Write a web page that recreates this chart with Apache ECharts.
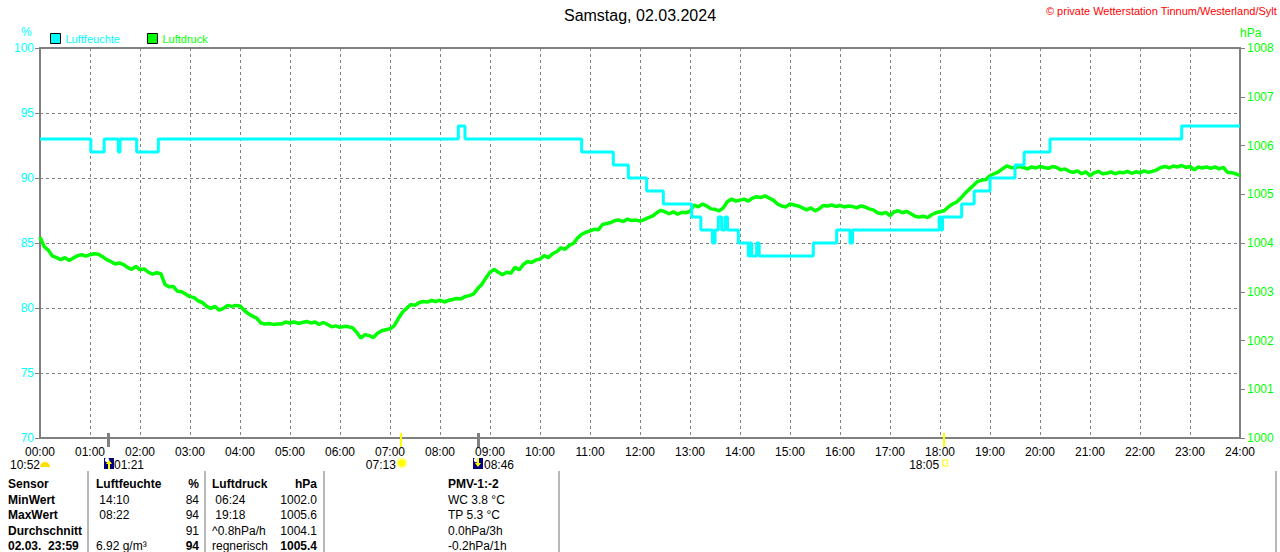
<!DOCTYPE html>
<html><head><meta charset="utf-8">
<script src="https://cdn.jsdelivr.net/npm/echarts@6/dist/echarts.min.js"></script>
<style>html,body{margin:0;padding:0;background:#fff}#c{width:1280px;height:552px}</style>
</head><body><div id="c"></div>
<script>
const chartTitle = 'Samstag, 02.03.2024';
const copyrightText = '© private Wetterstation Tinnum/Westerland/Sylt';
const seriesNames = ['Luftfeuchte', 'Luftdruck'];
const unitLeft = '%';
const unitRight = 'hPa';

// Luftfeuchte: change points (value holds until next time)
const humidityTimes = ['00:00','01:01','01:17','01:34','01:36','01:56','02:22','08:22','08:30','10:50','11:28','11:46','12:08','12:28','13:02','13:13','13:27','13:30','13:34','13:38','13:42','13:45','13:58','14:10','14:12','14:14','14:20','14:23','15:28','15:56','16:12','16:15','17:59','18:01','18:03','18:26','18:41','19:00','19:30','19:41','20:12','22:50','24:00'];
const humidityValues = [93,92,93,92,93,92,93,94,93,92,91,90,89,88,87,86,85,86,87,86,87,86,85,84,85,84,85,84,85,86,85,86,87,86,87,88,89,90,91,92,93,94,94];

// Luftdruck: one reading every 5 minutes from 00:00 to 24:00
const pressureStepMinutes = 5;
const pressureValues = [
1004.12,1003.93,1003.85,1003.73,1003.70,1003.66,1003.70,1003.64,1003.69,1003.74,1003.76,1003.73,
1003.76,1003.78,1003.77,1003.72,1003.66,1003.62,1003.57,1003.59,1003.56,1003.50,1003.46,1003.52,
1003.45,1003.47,1003.40,1003.36,1003.39,1003.37,1003.15,1003.10,1003.11,1003.01,1003.00,1002.95,
1002.90,1002.88,1002.81,1002.78,1002.70,1002.66,1002.70,1002.62,1002.66,1002.72,1002.70,1002.72,
1002.71,1002.62,1002.55,1002.50,1002.46,1002.36,1002.34,1002.35,1002.33,1002.34,1002.34,1002.38,
1002.36,1002.38,1002.35,1002.37,1002.39,1002.36,1002.38,1002.33,1002.37,1002.33,1002.28,1002.30,
1002.27,1002.29,1002.28,1002.26,1002.17,1002.05,1002.12,1002.10,1002.06,1002.15,1002.20,1002.22,
1002.24,1002.30,1002.45,1002.58,1002.66,1002.74,1002.72,1002.78,1002.80,1002.79,1002.82,1002.80,
1002.83,1002.79,1002.82,1002.84,1002.86,1002.85,1002.90,1002.92,1002.95,1003.06,1003.15,1003.28,
1003.40,1003.46,1003.40,1003.35,1003.40,1003.38,1003.50,1003.45,1003.56,1003.62,1003.60,1003.65,
1003.67,1003.74,1003.70,1003.78,1003.82,1003.90,1003.87,1003.95,1003.99,1004.10,1004.18,1004.22,
1004.25,1004.28,1004.27,1004.38,1004.40,1004.42,1004.46,1004.47,1004.44,1004.49,1004.46,1004.47,
1004.45,1004.48,1004.52,1004.55,1004.62,1004.67,1004.64,1004.60,1004.64,1004.59,1004.63,1004.62,
1004.65,1004.78,1004.74,1004.80,1004.76,1004.70,1004.69,1004.66,1004.72,1004.85,1004.90,1004.86,
1004.88,1004.90,1004.86,1004.92,1004.95,1004.93,1004.97,1004.92,1004.88,1004.80,1004.76,1004.74,
1004.80,1004.78,1004.76,1004.72,1004.68,1004.72,1004.66,1004.70,1004.77,1004.76,1004.78,1004.75,
1004.77,1004.74,1004.76,1004.75,1004.72,1004.76,1004.74,1004.70,1004.68,1004.62,1004.60,1004.63,
1004.56,1004.64,1004.66,1004.62,1004.65,1004.60,1004.55,1004.53,1004.55,1004.52,1004.58,1004.62,
1004.64,1004.66,1004.74,1004.80,1004.84,1004.92,1005.02,1005.10,1005.18,1005.26,1005.29,1005.30,
1005.38,1005.42,1005.46,1005.52,1005.58,1005.55,1005.54,1005.57,1005.55,1005.52,1005.56,1005.54,
1005.57,1005.55,1005.53,1005.57,1005.55,1005.50,1005.52,1005.47,1005.45,1005.48,1005.42,1005.46,
1005.38,1005.44,1005.47,1005.42,1005.43,1005.46,1005.42,1005.45,1005.44,1005.47,1005.43,1005.46,
1005.44,1005.48,1005.45,1005.47,1005.50,1005.55,1005.57,1005.54,1005.58,1005.56,1005.59,1005.55,
1005.57,1005.50,1005.56,1005.54,1005.56,1005.53,1005.56,1005.52,1005.55,1005.45,1005.44,1005.42,
1005.38];

// Axis ranges
const humidityAxis = {min: 70, max: 100, interval: 5};
const pressureAxis = {min: 1000, max: 1008, interval: 1};
const timeAxis = {min: 0, max: 1440, interval: 60};

// Sun / moon events under the axis
const dayLength = '10:52';
const eventTimes = ['01:21', '07:13', '08:46', '18:05'];
const eventKinds = ['moonrise', 'sunrise', 'moonset', 'sunset'];

// Summary table
const tableRows = [
  ['Sensor', 'Luftfeuchte', '%', 'Luftdruck', 'hPa', 'PMV-1:-2'],
  ['MinWert', '\u00a014:10', '84', '\u00a006:24', '1002.0', 'WC 3.8 °C'],
  ['MaxWert', '\u00a008:22', '94', '\u00a019:18', '1005.6', 'TP 5.3 °C'],
  ['Durchschnitt', '', '91', '^0.8hPa/h', '1004.1', '0.0hPa/3h'],
  ['02.03.\u00a0\u00a023:59', '6.92 g/m³', '94', 'regnerisch', '1005.4', '-0.2hPa/1h']
];
const tableBold = [
  [1,1,1,1,1,1],
  [1,0,0,0,0,0],
  [1,0,0,0,0,0],
  [1,0,0,0,0,0],
  [1,0,1,0,1,0]
];

// ---------- layout / styles ----------
const CYAN = '#00FFFF', GREEN = '#00FF00', GRAY = '#808080';
const FONT = '"Liberation Sans", Arial, sans-serif';
const colX = [8, 96, 199, 212, 317, 448];
const colAlign = ['left', 'left', 'right', 'left', 'right', 'left'];
const rowY = [484, 499.5, 515, 530.5, 545.5];
const separatorsX = [88, 205, 324, 559, 1276];

function toMin(s) { const p = s.split(':'); return (+p[0]) * 60 + (+p[1]); }
function pad(n) { return (n < 10 ? '0' : '') + n; }

const humidityData = humidityTimes.map((t, i) => [toMin(t), humidityValues[i]]);
const pressureData = pressureValues.map((v, i) => [i * pressureStepMinutes, v]);

const chart = echarts.init(document.getElementById('c'), null, {renderer: 'svg'});

const option = {
  animation: false,
  backgroundColor: '#fff',
  textStyle: {fontFamily: FONT},
  title: [
    {text: chartTitle, left: 'center', top: 7, padding: 0, textStyle: {fontFamily: FONT, fontSize: 16, fontWeight: 'normal', color: '#000'}},
    {text: copyrightText, right: 3, top: 5, padding: 0, textStyle: {fontFamily: FONT, fontSize: 11, fontWeight: 'normal', color: '#FF0000'}}
  ],
  legend: {
    left: 50, top: 33, padding: 0, itemWidth: 10, itemHeight: 10, itemGap: 27, icon: 'rect',
    textStyle: {fontFamily: FONT, fontSize: 11},
    data: [
      {name: seriesNames[0], itemStyle: {color: CYAN, borderColor: '#000', borderWidth: 1}, textStyle: {color: CYAN}},
      {name: seriesNames[1], itemStyle: {color: GREEN, borderColor: '#000', borderWidth: 1}, textStyle: {color: GREEN}}
    ]
  },
  grid: {left: 40, right: 40, top: 48, bottom: 114, show: true, borderColor: GRAY, borderWidth: 2, backgroundColor: 'transparent'},
  xAxis: {
    type: 'value', min: timeAxis.min, max: timeAxis.max, interval: timeAxis.interval,
    axisLine: {show: true, lineStyle: {color: GRAY, width: 2}},
    axisTick: {show: false},
    axisLabel: {color: '#000', fontSize: 12, fontFamily: FONT, margin: 9, lineHeight: 10, showMinLabel: true, showMaxLabel: true,
      formatter: v => pad(Math.round(v / 60)) + ':00'},
    splitLine: {show: true, lineStyle: {color: GRAY, type: [3, 3], width: 1}}
  },
  yAxis: [
    {
      type: 'value', min: humidityAxis.min, max: humidityAxis.max, interval: humidityAxis.interval, position: 'left',
      axisLine: {show: true, lineStyle: {color: GRAY, width: 2}},
      axisTick: {show: true, length: 5, lineStyle: {color: GRAY, width: 1}},
      axisLabel: {color: CYAN, fontSize: 12, fontFamily: FONT, margin: 6, formatter: v => String(v)},
      splitLine: {show: true, lineStyle: {color: GRAY, type: [3, 3], width: 1}}
    },
    {
      type: 'value', min: pressureAxis.min, max: pressureAxis.max, interval: pressureAxis.interval, position: 'right',
      axisLine: {show: true, lineStyle: {color: GRAY, width: 2}},
      axisTick: {show: true, length: 5, lineStyle: {color: GRAY, width: 1}},
      axisLabel: {color: GREEN, fontSize: 12, fontFamily: FONT, margin: 7, formatter: v => String(v)},
      splitLine: {show: false}
    }
  ],
  series: [
    {name: seriesNames[0], type: 'line', yAxisIndex: 0, data: humidityData, step: 'end', showSymbol: false, z: 4,
      itemStyle: {color: CYAN}, lineStyle: {color: CYAN, width: 3}},
    {name: seriesNames[1], type: 'line', yAxisIndex: 1, data: pressureData, showSymbol: false, z: 3,
      itemStyle: {color: GREEN}, lineStyle: {color: GREEN, width: 3.5}}
  ]
};
chart.setOption(option);

// ---------- graphic overlays ----------
const g = [];
const smallText = (x, y, text, align) => ({type: 'text', x: x, y: y,
  style: {text: text, fill: '#000', font: '12px ' + FONT, verticalAlign: 'middle', align: align || 'left', lineHeight: 10}});

g.push({type: 'text', left: 21, top: 26, style: {text: unitLeft, fill: CYAN, font: '12px ' + FONT}});
g.push({type: 'text', left: 1240, top: 27, style: {text: unitRight, fill: GREEN, font: '12px ' + FONT}});

// day length
g.push(smallText(10, 464.5, dayLength));
g.push({type: 'sector', shape: {cx: 45, cy: 467, r: 5, r0: 0, startAngle: Math.PI, endAngle: Math.PI * 2}, style: {fill: '#FFE000'}});

function moonIcon(x, up) {
  const items = [];
  items.push({type: 'rect', shape: {x: x, y: 458, width: 10, height: 11}, style: {fill: '#000080'}});
  items.push({type: 'circle', shape: {cx: x + 3, cy: 460, r: 2.2}, style: {fill: '#fff'}});
  if (up) {
    items.push({type: 'polygon', shape: {points: [[x + 5, 460], [x + 8, 464], [x + 6, 464], [x + 6, 469], [x + 4, 469], [x + 4, 464], [x + 2, 464]]}, style: {fill: '#FFFF00'}});
  } else {
    items.push({type: 'polygon', shape: {points: [[x + 4, 458], [x + 6, 458], [x + 6, 463], [x + 8, 463], [x + 5, 467], [x + 2, 463], [x + 4, 463]]}, style: {fill: '#FFFF00'}});
  }
  return items;
}

eventTimes.forEach((t, i) => {
  const px = chart.convertToPixel({xAxisIndex: 0}, toMin(t));
  const kind = eventKinds[i];
  const isSun = kind === 'sunrise' || kind === 'sunset';
  g.push({type: 'rect', shape: {x: Math.round(px) - 1, y: 433, width: isSun ? 2 : 3, height: 14},
    style: {fill: isSun ? '#FFFF00' : GRAY}, z: 10});
  if (kind === 'moonrise') {
    g.push(...moonIcon(Math.round(px) - 4, true));
    g.push(smallText(Math.round(px) + 6, 464.5, t));
  } else if (kind === 'moonset') {
    g.push(...moonIcon(Math.round(px) - 5, false));
    g.push(smallText(Math.round(px) + 6, 464.5, t));
  } else if (kind === 'sunrise') {
    g.push({type: 'circle', shape: {cx: px + 1, cy: 463, r: 5.5}, style: {fill: '#FFFFA0'}});
    g.push({type: 'circle', shape: {cx: px + 1, cy: 463, r: 3.8}, style: {fill: '#FFFF00'}});
    g.push(smallText(px - 5, 464.5, t, 'right'));
  } else {
    g.push({type: 'rect', shape: {x: px - 1.5, y: 460, width: 5, height: 6}, style: {fill: '#fff', stroke: '#FFFF00', lineWidth: 1}});
    g.push(smallText(px - 5, 464.5, t, 'right'));
  }
});

// table separators
separatorsX.forEach(x => {
  g.push({type: 'line', shape: {x1: x, y1: 471, x2: x, y2: 552}, style: {stroke: '#A0A0A0', lineWidth: 1.5}});
});

// table texts
tableRows.forEach((row, r) => {
  row.forEach((cell, c) => {
    if (!cell) return;
    g.push({type: 'text', x: colX[c], y: rowY[r], style: {
      text: cell, fill: '#000', align: colAlign[c], verticalAlign: 'middle', lineHeight: 12,
      font: (tableBold[r][c] ? 'bold ' : '') + '12px ' + FONT}});
  });
});

chart.setOption({graphic: g});
</script></body></html>
